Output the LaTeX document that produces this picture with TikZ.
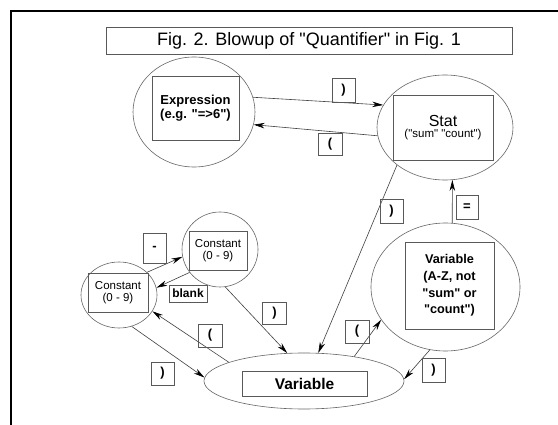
\documentclass[tikz,border=0pt]{standalone}
\usepackage{fontspec}
\setmainfont{Liberation Sans}[Ligatures=TeXOff]
\usetikzlibrary{shapes.geometric,arrows.meta}
\begin{document}
\begin{tikzpicture}[x=1pt,y=-1pt,
 oval/.style={draw=black!60,ellipse,inner sep=0pt,line width=0.6pt},
 box/.style={draw=black!65,rectangle,inner sep=0pt,line width=0.7pt,align=center},
 lbl/.style={draw=black!65,rectangle,inner sep=0pt,line width=0.7pt,minimum width=23pt,minimum height=23pt,font=\fontsize{13}{14}\selectfont\bfseries},
 conn/.style={draw=black!75,line width=0.6pt,-{Stealth[length=11pt,width=5.5pt,fill=black,color=black]}},
]
\useasboundingbox (0,0) rectangle (558,425);
\fill[white] (0,0) rectangle (558,425);
\draw[line width=2pt] (11,425) -- (11,11) -- (558,11);

% title
\node[box,minimum width=406pt,minimum height=27pt,font=\fontsize{18}{20}\selectfont] (title) at (309,40.5) {Fig. 2. Blowup of "Quantifier" in Fig. 1};

% ellipses
\node[oval,minimum width=122pt,minimum height=110pt] (expr) at (194,112) {};
\node[oval,minimum width=136pt,minimum height=105pt] (stat) at (445,127.5) {};
\node[oval,minimum width=149pt,minimum height=128pt] (varaz) at (445.5,287) {};
\node[oval,minimum width=76pt,minimum height=75pt] (topc) at (220,249.5) {};
\node[oval,minimum width=76pt,minimum height=66pt] (leftc) at (119,295) {};
\node[oval,minimum width=200pt,minimum height=56pt] (var) at (304,381) {};

% boxes
\node[box,minimum width=87pt,minimum height=64pt,font=\fontsize{13}{13.5}\selectfont\bfseries] (exprbox) at (195.5,108) {Expression\\(e.g. "=>6")};
\node[box,minimum width=100pt,minimum height=65pt] (statbox) at (443,127.5) {{\fontsize{16}{17}\selectfont Stat}\\[-1pt]{\fontsize{11.5}{13}\selectfont ("sum" "count")}};
\node[box,minimum width=89pt,minimum height=87pt,font=\fontsize{12.7}{16.7}\selectfont\bfseries] (varazbox) at (449.5,285.5) {Variable\\(A-Z, not\\"sum" or\\"count")};
\node[box,minimum width=58pt,minimum height=39pt,font=\fontsize{11.5}{12.5}\selectfont] (topcbox) at (218,250.5) {Constant\\(0 - 9)};
\node[box,minimum width=60pt,minimum height=39pt,font=\fontsize{11.5}{12.5}\selectfont] (leftcbox) at (118,292.5) {Constant\\(0 - 9)};
\node[box,minimum width=125pt,minimum height=25pt,font=\fontsize{15.5}{17}\selectfont\bfseries] (varbox) at (304.5,383.5) {Variable};

% connectors
\draw[conn] (expr.14) -- (stat.160.7);
\draw[conn] (stat.187) -- (expr.-12.6);
\draw[conn] (stat.218) -- (var.63.4);
\draw[conn] (varaz.84) -- (stat.-82);
\draw[conn] (leftc.39) -- (topc.191);
\draw[conn] (topc.217) -- (leftc.11);
\draw[conn] (topc.278) -- (var.121);
\draw[conn] (var.166.5) -- (leftc.-26.6);
\draw[conn] (leftc.-68) -- (var.178.3);
\draw[conn] (var.26.6) -- (varaz.207.7);
\draw[conn] (varaz.256.8) -- (var.1.8);

% labels
\node[lbl,minimum height=24pt] (l1) at (343.5,90) {)};
\node[lbl,minimum width=24pt,minimum height=22pt] (l2) at (330,144) {(};
\node[lbl,minimum height=24pt] (l3) at (391.5,211) {)};
\node[lbl,minimum width=22pt,minimum height=24pt] (l4) at (467,207) {=};
\node[lbl,minimum height=30pt] (l5) at (154.5,248) {-};
\node[lbl,minimum width=38pt,minimum height=17pt,font=\fontsize{12}{13}\selectfont\bfseries] (l6) at (188,293.5) {blank};
\node[lbl,minimum width=24pt,minimum height=22pt] (l7) at (274.5,313) {)};
\node[lbl,minimum width=24pt] (l8) at (210,335.5) {(};
\node[lbl] (l9) at (162.5,373.5) {)};
\node[lbl,minimum width=24pt] (l10) at (357,331.5) {(};
\node[lbl,minimum height=24pt] (l11) at (433.5,370) {)};
\end{tikzpicture}
\end{document}
